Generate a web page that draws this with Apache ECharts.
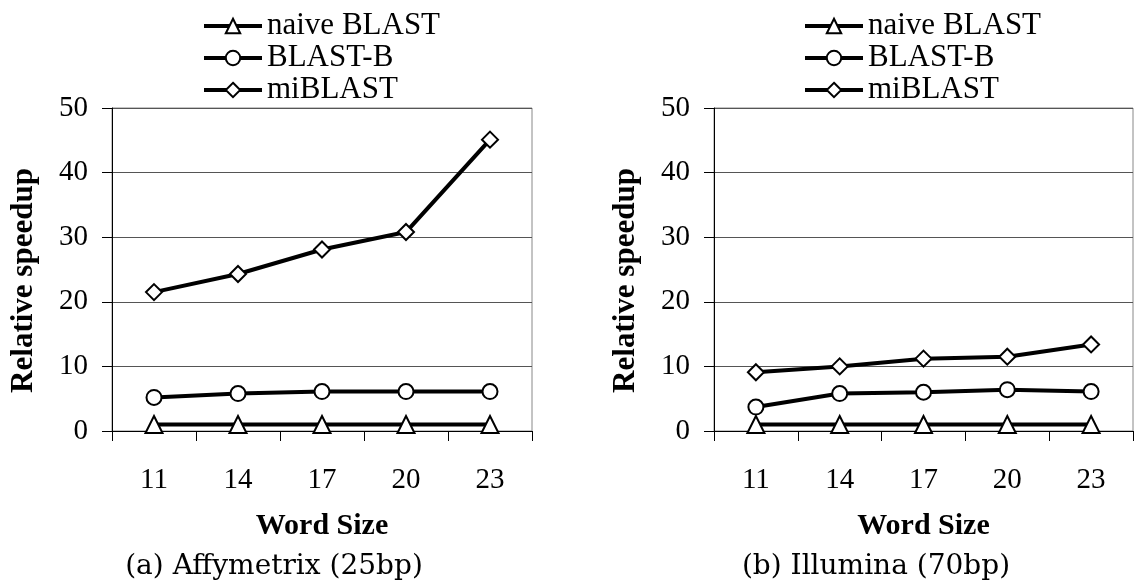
<!DOCTYPE html>
<html>
<head>
<meta charset="utf-8">
<script src="https://cdn.jsdelivr.net/npm/echarts@6/dist/echarts.min.js"></script>
<style>html,body{margin:0;padding:0;background:#fff;}#c{width:1138px;height:585px;}</style>
</head>
<body>
<div id="c"></div>
<script>
const categories = ['11', '14', '17', '20', '23'];
const seriesNames = ['naive BLAST', 'BLAST-B', 'miBLAST'];
const yTicks = [0, 10, 20, 30, 40, 50];
// (a) Affymetrix (25bp)
const affyNaive = [1, 1, 1, 1, 1];
const affyBlastB = [5.2, 5.8, 6.1, 6.1, 6.1];
const affyMiBlast = [21.5, 24.3, 28.1, 30.8, 45.1];
// (b) Illumina (70bp)
const illNaive = [1, 1, 1, 1, 1];
const illBlastB = [3.7, 5.8, 6.0, 6.4, 6.1];
const illMiBlast = [9.1, 10.0, 11.2, 11.5, 13.4];
const subtitles = ['(a) Affymetrix (25bp)', '(b) Illumina (70bp)'];
const xName = 'Word Size';
const yName = 'Relative speedup';

const times = 'Liberation Serif';
const symbols = ['triangle', 'circle', 'diamond'];
const symbolSizes = [17, 15, 16];

function mkSeries(data, idx, gi) {
  return {
    name: seriesNames[idx], type: 'line', data: data,
    xAxisIndex: gi, yAxisIndex: gi,
    symbol: symbols[idx], symbolSize: symbolSizes[idx],
    showAllSymbol: true,
    lineStyle: { color: '#000', width: 4 },
    itemStyle: { color: '#fff', borderColor: '#000', borderWidth: 2 },
    emphasis: { disabled: true },
    animation: false, z: 3 + idx
  };
}

function mkX(gi) {
  return {
    type: 'category', gridIndex: gi, data: categories, boundaryGap: true,
    name: xName, nameLocation: 'middle', nameGap: 80,
    nameTextStyle: { fontFamily: times, fontWeight: 'bold', fontSize: 30, color: '#000' },
    axisLine: { lineStyle: { color: '#000', width: 1 } },
    axisTick: { show: true, length: 10, lineStyle: { color: '#000' } },
    axisLabel: { fontFamily: times, fontSize: 29, color: '#000', margin: 35 },
    splitLine: { show: false }
  };
}
function mkY(gi) {
  return {
    type: 'value', gridIndex: gi, min: 0, max: 50, interval: 10,
    name: yName, nameLocation: 'middle', nameGap: 73, nameRotate: 90,
    nameTextStyle: { fontFamily: times, fontWeight: 'bold', fontSize: 31, color: '#000', padding: [0, 22, 0, 0] },
    axisLine: { show: true, lineStyle: { color: '#000', width: 1 } },
    axisTick: { show: true, length: 10, lineStyle: { color: '#000' } },
    axisLabel: { fontFamily: times, fontSize: 29, color: '#000', margin: 24,
      formatter: v => (yTicks.indexOf(v) >= 0 ? String(v) : '') },
    splitLine: { show: true, lineStyle: { color: '#555', width: 1 } }
  };
}
function mkLegend(left) {
  return {
    orient: 'vertical', left: left, top: 5,
    itemWidth: 58, itemHeight: 18, itemGap: 0,
    data: seriesNames,
    lineStyle: { width: 4, color: '#000' },
    textStyle: { fontFamily: times, fontSize: 31, color: '#000', lineHeight: 32 },
    selectedMode: false
  };
}

const chart = echarts.init(document.getElementById('c'), null, { renderer: 'canvas' });
chart.setOption({
  backgroundColor: '#fff',
  animation: false,
  grid: [
    { left: 112, right: 606, top: 108, bottom: 154, show: true, borderColor: '#888', borderWidth: 1, backgroundColor: 'transparent' },
    { left: 714, right: 5, top: 108, bottom: 154, show: true, borderColor: '#888', borderWidth: 1, backgroundColor: 'transparent' }
  ],
  legend: [mkLegend(197), mkLegend(798)],
  xAxis: [mkX(0), mkX(1)],
  yAxis: [mkY(0), mkY(1)],
  series: [
    mkSeries(affyNaive, 0, 0), mkSeries(affyBlastB, 1, 0), mkSeries(affyMiBlast, 2, 0),
    mkSeries(illNaive, 0, 1), mkSeries(illBlastB, 1, 1), mkSeries(illMiBlast, 2, 1)
  ],
  graphic: [
    { type: 'text', x: 274, y: 567, style: { text: subtitles[0], font: '28px "DejaVu Serif"', fill: '#000', align: 'center', verticalAlign: 'middle' } },
    { type: 'text', x: 876, y: 567, style: { text: subtitles[1], font: '28px "DejaVu Serif"', fill: '#000', align: 'center', verticalAlign: 'middle' } }
  ]
});
</script>
</body>
</html>
